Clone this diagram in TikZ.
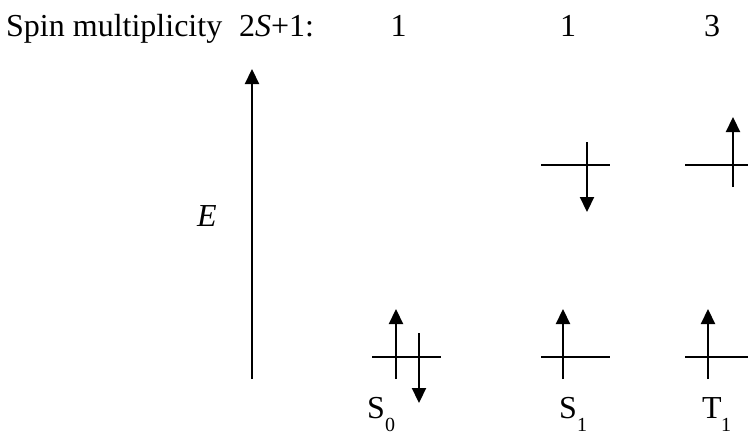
\documentclass[tikz,border=0pt]{standalone}
\usepackage{fontspec}
\setmainfont{Liberation Serif}
\usetikzlibrary{arrows.meta}
\tikzset{
  lbl/.style={inner sep=0pt, font=\fontsize{32}{38}\selectfont},
  subl/.style={inner sep=0pt, font=\fontsize{20}{22}\selectfont},
  level/.style={line width=2.2pt},
  spin/.style={line width=2.2pt, -{Triangle[width=14pt,length=15pt]}},
}
\begin{document}
\begin{tikzpicture}[x=1pt,y=-1pt]
\useasboundingbox (0,0) rectangle (748,434);
% header
\node[lbl, anchor=base west] (title) at (6,36) {Spin multiplicity};
\node[lbl, anchor=base west] (mult) at (239,36) {2\textit{S}+1:};
\node[lbl, anchor=base] (m1) at (398.5,36) {1};
\node[lbl, anchor=base] (m2) at (568,36) {1};
\node[lbl, anchor=base] (m3) at (712,36) {3};
% energy axis
\coordinate (axb) at (252,379);
\coordinate (axt) at (252,69);
\draw[spin] (axb) -- (axt);
\node[lbl, font=\fontsize{32}{38}\selectfont\itshape] (E) at (207,216) {E};
% S0
\coordinate (s0l) at (372,357);
\coordinate (s0r) at (441,357);
\draw[level] (s0l) -- (s0r);
\coordinate (s0ua) at (396,379);
\coordinate (s0ub) at (396,309);
\draw[spin] (s0ua) -- (s0ub);
\coordinate (s0da) at (419,333);
\coordinate (s0db) at (419,403);
\draw[spin] (s0da) -- (s0db);
% S1
\coordinate (s1hl) at (541,165);
\coordinate (s1hr) at (610,165);
\draw[level] (s1hl) -- (s1hr);
\coordinate (s1da) at (587,142);
\coordinate (s1db) at (587,212);
\draw[spin] (s1da) -- (s1db);
\coordinate (s1ll) at (541,357);
\coordinate (s1lr) at (610,357);
\draw[level] (s1ll) -- (s1lr);
\coordinate (s1ua) at (563,379);
\coordinate (s1ub) at (563,309);
\draw[spin] (s1ua) -- (s1ub);
% T1
\coordinate (t1hl) at (685,165);
\coordinate (t1hr) at (752,165);
\draw[level] (t1hl) -- (t1hr);
\coordinate (t1ua) at (733,187);
\coordinate (t1ub) at (733,117);
\draw[spin] (t1ua) -- (t1ub);
\coordinate (t1ll) at (685,357);
\coordinate (t1lr) at (752,357);
\draw[level] (t1ll) -- (t1lr);
\coordinate (t1la) at (708,379);
\coordinate (t1lb) at (708,309);
\draw[spin] (t1la) -- (t1lb);
% state labels
\node[lbl, anchor=base west] (S0) at (367,418) {S};
\node[subl, anchor=base west] (S0i) at (385,431) {0};
\node[lbl, anchor=base west] (S1) at (559,418) {S};
\node[subl, anchor=base west] (S1i) at (577,431) {1};
\node[lbl, anchor=base west] (T1) at (702,418) {T};
\node[subl, anchor=base west] (T1i) at (721,431) {1};
\end{tikzpicture}
\end{document}
